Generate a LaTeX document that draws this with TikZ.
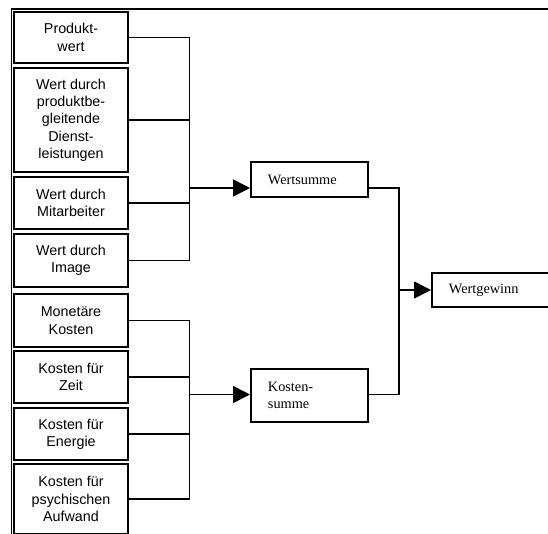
\documentclass[tikz,border=0pt]{standalone}
\usepackage{fontspec}
\setmainfont{Liberation Serif}
\newfontfamily\boxsans{Liberation Sans}
\usetikzlibrary{arrows.meta}

\begin{document}
\begin{tikzpicture}[x=1pt,y=-1pt,
  line width=1.6pt, line join=miter,
  lbox/.style={draw, line width=1.9pt, minimum width=114pt, align=center,
    inner sep=0pt, font=\boxsans\fontsize{14.3}{17.3}\selectfont},
  rbox/.style={draw, line width=1.9pt, anchor=west, align=left, inner ysep=0pt,
    inner xsep=17pt, font=\fontsize{14.3}{16.5}\selectfont},
  feed/.style={-{Triangle[length=17pt,width=17pt]}}]
\useasboundingbox (0,0) rectangle (548,533);

% outer frame
\draw (548,9) -- (11.5,9) -- (11.5,540);

% value components
\node[lbox, minimum height=51pt]  (pw) at (71,37.5)  {Produkt-\\wert};
\node[lbox, minimum height=104pt] (pd) at (71,120)   {Wert durch\\produktbe-\\gleitende\\Dienst-\\leistungen};
\node[lbox, minimum height=52pt]  (ma) at (71,203)   {Wert durch\\Mitarbeiter};
\node[lbox, minimum height=53pt]  (im) at (71,260.5) {Wert durch\\Image};

% cost components
\node[lbox, minimum height=53pt]  (mk) at (71,320.5) {Monetäre\\Kosten};
\node[lbox, minimum height=52pt]  (kz) at (71,377)   {Kosten für\\Zeit};
\node[lbox, minimum height=52pt]  (ke) at (71,434)   {Kosten für\\Energie};
\node[lbox, minimum height=70pt]  (kp) at (71,499)   {Kosten für\\psychischen\\Aufwand};

% sums and result
\node[rbox, text width=83pt, minimum height=35pt]  (ws) at (250,179.5) {Wertsumme};
\node[rbox, text width=83pt, minimum height=53pt]  (ks) at (250,395.5) {Kosten-\\summe};
\node[rbox, text width=106pt, minimum height=34pt] (wg) at (431,290)   {Wertgewinn};

% junction points
\coordinate (jv) at (189.5,188);
\coordinate (jk) at (189.5,394.5);
\coordinate (jr) at (399,290);

% value bracket
\draw (pw.east) -- (pw.east -| jv) -- (im.east -| jv) -- (im.east);
\draw (pd.east) -- (pd.east -| jv);
\draw (ma.east) -- (ma.east -| jv);
\draw[feed] (jv) -- (jv -| ws.west);

% cost bracket
\draw (mk.east) -- (mk.east -| jk) -- (kp.east -| jk) -- (kp.east);
\draw (kz.east) -- (kz.east -| jk);
\draw (ke.east) -- (ke.east -| jk);
\draw[feed] (jk) -- (jk -| ks.west);

% result bracket
\draw (ws.east |- jv) -- (jr |- jv) -- (jr |- jk) -- (ks.east |- jk);
\draw[feed] (jr) -- (wg.west);
\end{tikzpicture}
\end{document}
